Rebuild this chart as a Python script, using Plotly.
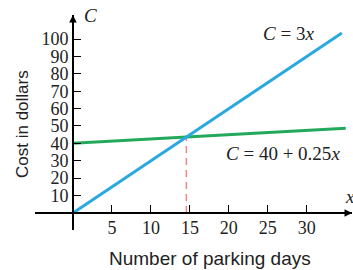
import plotly.graph_objects as go

# Data
days_c3x = [0, 34.5]
cost_c3x = [0, 103.5]
days_c40 = [0, 35]
cost_c40 = [40, 48.75]
break_even_days = [14.55, 14.55]
break_even_cost = [0, 43.6]
x_ticks = [5, 10, 15, 20, 25, 30]
y_ticks = [10, 20, 30, 40, 50, 60, 70, 80, 90, 100]

X_RANGE = [-4.87, 35.8]
Y_RANGE = [-9.8, 113.8]
serif = "Liberation Serif"
sans = "Liberation Sans"

fig = go.Figure()
fig.add_trace(go.Scatter(x=break_even_days, y=break_even_cost, mode="lines",
                         line=dict(color="#f08585", width=1.5, dash="7px,5px"), showlegend=False))
fig.add_trace(go.Scatter(x=days_c40, y=cost_c40, mode="lines",
                         line=dict(color="#22a95b", width=3), showlegend=False))
fig.add_trace(go.Scatter(x=days_c3x, y=cost_c3x, mode="lines",
                         line=dict(color="#2ba8e0", width=3), showlegend=False))

ml, mr, mt, mb = 35, 1, 15, 40
W, H = 353, 270
pw, ph = W - ml - mr, H - mt - mb
x0_frac = (0 - X_RANGE[0]) / (X_RANGE[1] - X_RANGE[0])
y0_frac = (0 - Y_RANGE[0]) / (Y_RANGE[1] - Y_RANGE[0])

fig.update_layout(
    width=W, height=H, margin=dict(l=ml, r=mr, t=mt, b=mb, autoexpand=False),
    plot_bgcolor="white", paper_bgcolor="white",
    xaxis=dict(range=X_RANGE, showgrid=False, zeroline=False, showline=True, automargin=False,
               linecolor="black", linewidth=1.5, anchor="free", position=y0_frac,
               ticks="inside", ticklen=7, tickwidth=1.2, tickcolor="black",
               ticklabelstandoff=-1,
               tickvals=x_ticks, ticktext=[str(v) for v in x_ticks],
               tickfont=dict(family=serif, size=18, color="#222")),
    yaxis=dict(range=Y_RANGE, showgrid=False, zeroline=False, showline=True, automargin=False,
               linecolor="black", linewidth=1.5, anchor="free", position=x0_frac,
               ticks="inside", ticklen=7, tickwidth=1.2, tickcolor="black",
               tickvals=y_ticks, ticktext=[str(v) for v in y_ticks],
               tickfont=dict(family=serif, size=18, color="#222")),
)

ann = []
# axis arrows
ann.append(dict(x=X_RANGE[1], y=0, xref="x", yref="y", ax=-12, ay=0, showarrow=True,
                arrowhead=2, arrowsize=1, arrowwidth=1.5, arrowcolor="black", text=""))
ann.append(dict(x=0, y=Y_RANGE[1], xref="x", yref="y", ax=0, ay=12, showarrow=True,
                arrowhead=2, arrowsize=1, arrowwidth=1.5, arrowcolor="black", text=""))
ann.append(dict(x=1.2, y=113.8, xref="x", yref="y", text="<i>C</i>", showarrow=False,
                xanchor="left", font=dict(family=serif, size=19, color="#222")))
ann.append(dict(x=35.5, y=9.2, xref="x", yref="y", text="<i>x</i>", showarrow=False,
                font=dict(family=serif, size=19, color="#222")))
ann.append(dict(x=27.6, y=103.4, xref="x", yref="y", text="<i>C</i> = 3<i>x</i>", showarrow=False,
                font=dict(family=serif, size=19, color="#222")))
ann.append(dict(x=26.9, y=33.9, xref="x", yref="y", text="<i>C</i> = 40 + 0.25<i>x</i>", showarrow=False,
                font=dict(family=serif, size=19, color="#222")))
ann.append(dict(x=(210 - ml) / pw, y=(mt + ph - 258) / ph, xref="paper", yref="paper",
                xanchor="center", yanchor="middle",
                text="Number of parking days", showarrow=False,
                font=dict(family=sans, size=19, color="#222")))
ann.append(dict(x=(23 - ml) / pw, y=(mt + ph - 124) / ph, xref="paper", yref="paper",
                xanchor="center", yanchor="middle",
                text="Cost in dollars", showarrow=False, textangle=-90,
                font=dict(family=sans, size=17, color="#222")))
fig.update_layout(annotations=ann)

fig.write_html("out.html", config={"displayModeBar": False},
               post_script="document.body.style.margin='0';document.body.style.padding='0';")
